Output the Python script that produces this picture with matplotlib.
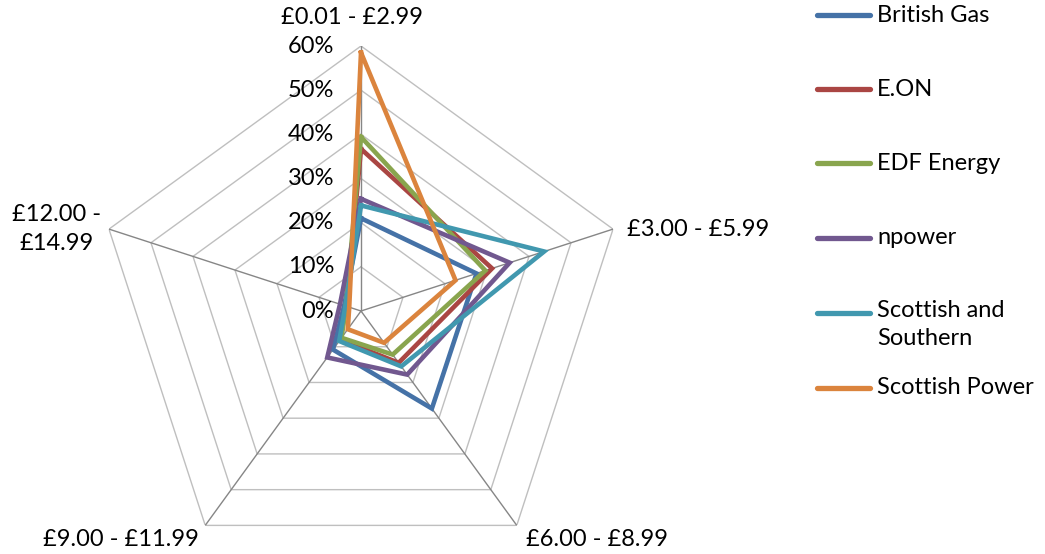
import numpy as np
import matplotlib
matplotlib.use("Agg")
import matplotlib.pyplot as plt
from matplotlib.lines import Line2D

categories = ["£0.01 - £2.99", "£3.00 - £5.99", "£6.00 - £8.99", "£9.00 - £11.99", "£12.00 -\n£14.99"]
suppliers = ["British Gas", "E.ON", "EDF Energy", "npower", "Scottish and\nSouthern", "Scottish Power"]
british_gas = [0.21, 0.275, 0.273, 0.108, 0.040]
eon = [0.367, 0.312, 0.145, 0.080, 0.035]
edf = [0.394, 0.296, 0.122, 0.075, 0.036]
npower = [0.254, 0.354, 0.178, 0.130, 0.050]
sse = [0.239, 0.436, 0.155, 0.084, 0.037]
scottish_power = [0.585, 0.225, 0.089, 0.051, 0.028]
series = [british_gas, eon, edf, npower, sse, scottish_power]
colors = ["#4572A7", "#AA4643", "#89A54E", "#71588F", "#4198AF", "#DB843D"]
levels = [0.0, 0.1, 0.2, 0.3, 0.4, 0.5, 0.6]
level_labels = ["0%", "10%", "20%", "30%", "40%", "50%", "60%"]

plt.rcParams['font.family'] = ['Lato', 'DejaVu Sans']
W, H = 1045, 554
fig = plt.figure(figsize=(W / 100, H / 100), dpi=100)
cx, cy, R = 361, 311, 265
ax = fig.add_axes([(cx - R) / W, (H - cy - R) / H, 2 * R / W, 2 * R / H], projection='polar')
ax.set_theta_zero_location('N')
ax.set_theta_direction(-1)
ax.set_ylim(0, 0.6)
ax.grid(False)
ax.set_xticks([])
ax.set_yticks([])
ax.spines['polar'].set_visible(False)
ax.patch.set_alpha(0)

n = len(categories)
theta = np.arange(n) * 2 * np.pi / n
theta_c = np.append(theta, theta[0])

# polygon gridlines
for lv in levels[1:]:
    ax.plot(theta_c, [lv] * (n + 1), color="#BFBFBF", lw=1.0, zorder=1)
# spokes
for t in theta:
    ax.plot([t, t], [0, 0.6], color="#868686", lw=1.0, zorder=1.5)

# series
for vals, col in zip(series, colors):
    v = np.append(vals, vals[0])
    ax.plot(theta_c, v, color=col, lw=3.3, zorder=3, solid_joinstyle='miter')

fs = 17
# radial labels
for lv, lab in zip(levels, level_labels):
    ax.annotate(lab, xy=(0, lv), xytext=(-27, 0), textcoords='offset pixels',
                ha='right', va='center', fontsize=fs, color='#000000')

# category labels
offsets = [((-9, 29), 'center', 'center'),
           ((14, 0), 'left', 'center'),
           ((9, -14), 'left', 'center'),
           ((-6, -14), 'right', 'center'),
           ((-8, 0), 'right', 'center')]
for t, lab, (off, ha, va) in zip(theta, categories, offsets):
    ax.annotate(lab, xy=(t, 0.6), xytext=off, textcoords='offset pixels',
                ha=ha, va=va, fontsize=fs, multialignment='center',
                linespacing=1.45, annotation_clip=False)

# legend (manual, Excel style)
ys = [15, 89, 163, 238, 313, 388]
for lab, col, y in zip(suppliers, colors, ys):
    yf = (H - y) / H
    fig.add_artist(Line2D([817 / W, 870 / W], [yf, yf], color=col, lw=3.8,
                          solid_capstyle='round'))
    if '\n' in lab:
        fig.text(877 / W, yf + 13 / H, lab, ha='left', va='top', fontsize=fs,
                 linespacing=1.4)
    else:
        fig.text(877 / W, yf, lab, ha='left', va='center', fontsize=fs)

fig.savefig("out.png", dpi=100)
